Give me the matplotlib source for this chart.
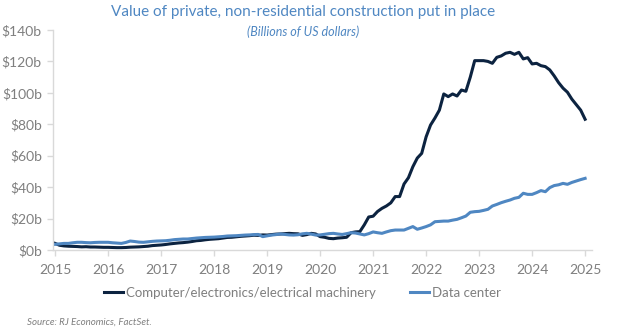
import numpy as np
import matplotlib.pyplot as plt
from matplotlib.ticker import FuncFormatter

# monthly values, Jan 2015 - Jan 2025 (billions of US dollars)
computer_elec = [
    4.2, 3.0, 2.6, 2.4, 2.3, 2.2, 2.0, 2.1, 1.9, 1.9, 1.8, 1.7,
    1.7, 1.6, 1.5, 1.5, 1.6, 1.8, 1.9, 2.0, 2.2, 2.4, 2.8, 3.0,
    3.2, 3.5, 3.9, 4.2, 4.5, 4.7, 5.0, 5.4, 5.9, 6.1, 6.5, 6.8,
    7.0, 7.2, 7.6, 8.0, 8.1, 8.4, 8.7, 8.9, 9.1, 9.4, 9.3, 9.6,
    9.5, 9.8, 10.1, 10.2, 10.4, 10.6, 10.4, 10.3, 9.3, 9.8, 10.6, 10.2,
    8.5, 8.1, 7.4, 7.2, 7.6, 7.8, 8.1, 11.0, 11.5, 11.7, 16.0, 21.0,
    21.5, 24.5, 26.5, 28.0, 30.0, 34.0, 34.0, 42.0, 46.0, 53.0, 58.5, 61.5,
    72.0, 79.5, 84.0, 89.0, 99.3, 97.6, 99.3, 98.0, 101.8, 101.0, 110.0, 120.5,
    120.5, 120.5, 120.0, 118.8, 122.6, 123.5, 125.2, 125.8, 124.5, 125.8, 121.6, 122.4,
    118.4, 118.8, 117.3, 116.7, 114.6, 110.8, 106.5, 103.0, 100.4, 96.0, 92.5, 89.0,
    83.2,
]
data_center = [
    3.6, 3.9, 4.2, 4.2, 4.6, 4.9, 4.9, 4.7, 4.6, 4.8, 4.9, 4.9,
    4.9, 4.6, 4.4, 4.2, 4.8, 5.7, 5.4, 5.0, 4.9, 5.2, 5.5, 5.7,
    5.8, 5.9, 6.2, 6.6, 6.8, 7.0, 7.0, 7.3, 7.6, 7.8, 8.0, 8.1,
    8.2, 8.4, 8.6, 8.9, 9.0, 9.1, 9.3, 9.5, 9.6, 9.8, 9.9, 8.5,
    9.0, 9.5, 9.8, 10.2, 9.9, 9.6, 9.5, 9.7, 10.3, 10.6, 10.1, 9.5,
    9.6, 10.0, 10.4, 10.6, 10.2, 9.9, 10.4, 11.0, 10.8, 10.2, 9.6, 10.4,
    11.5, 11.0, 10.6, 11.5, 12.3, 12.7, 12.7, 12.7, 13.8, 14.9, 13.2, 14.0,
    14.9, 16.0, 18.0, 18.2, 18.4, 18.4, 19.0, 19.5, 20.5, 21.6, 24.0, 24.4,
    24.6, 25.2, 25.9, 28.0, 29.0, 30.1, 31.0, 31.8, 32.9, 33.5, 36.1, 35.4,
    35.4, 36.5, 37.8, 37.1, 39.7, 41.0, 41.5, 42.4, 41.8, 43.0, 43.9, 44.8,
    45.6,
]
years = list(range(2015, 2026))

t = 2015 + np.arange(len(computer_elec)) / 12

plt.rcParams['font.family'] = ['Lato', 'DejaVu Sans']

dark = '#0c2340'
light = '#4f87c2'
grey = '#7f7f7f'
axis_grey = '#d9d9d9'

fig = plt.figure(figsize=(6.24, 3.35), dpi=100)
ax = fig.add_axes([53 / 624, 1 - 250 / 335, (592 - 53) / 624, 220 / 335])

ax.plot(t, computer_elec, color=dark, lw=2.2, solid_joinstyle='round',
        label='Computer/electronics/electrical machinery')
ax.plot(t, data_center, color=light, lw=2.2, solid_joinstyle='round',
        label='Data center')

ax.set_xlim(2014.96, 2025.13)
ax.set_ylim(0, 140)
ax.set_xticks(years)
ax.set_yticks(range(0, 141, 20))
ax.yaxis.set_major_formatter(FuncFormatter(lambda v, p: f'${v:.0f}b'))

for side in ['top', 'right']:
    ax.spines[side].set_visible(False)
for side in ['left', 'bottom']:
    ax.spines[side].set_color(axis_grey)
    ax.spines[side].set_linewidth(1)
ax.tick_params(axis='both', colors=axis_grey, length=4, width=1,
               labelcolor=grey, labelsize=10)
ax.tick_params(axis='x', pad=6)
ax.tick_params(axis='y', pad=4)

fig.text(0.485, 0.963, 'Value of private, non-residential construction put in place',
         ha='center', va='center', color=light, fontsize=11)
fig.text(0.485, 0.905, '(Billions of US dollars)', ha='center', va='center',
         color=light, fontsize=9, style='italic')

leg = fig.legend(loc='center', bbox_to_anchor=(0.485, 1 - 293 / 335), ncol=2,
                 frameon=False, fontsize=9.5, handlelength=1.4, handletextpad=0.25,
                 columnspacing=2.6)
for txt in leg.get_texts():
    txt.set_color(grey)

fig.text(27 / 624, 1 - 322 / 335, 'Source: RJ Economics, FactSet.', ha='left',
         va='center', color=grey, fontsize=7, style='italic')

fig.savefig('out.png', dpi=100)
